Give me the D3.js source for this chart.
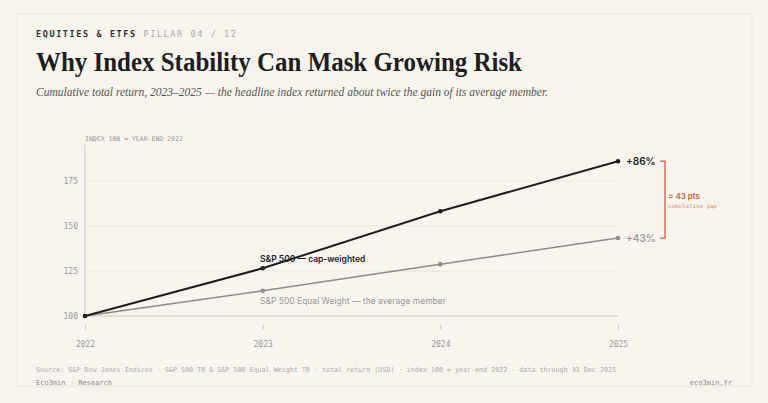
<!DOCTYPE html><html><head><meta charset="utf-8">
<script src="https://cdn.jsdelivr.net/npm/d3@7"></script>
<style>body{margin:0;background:#f7f4ee;}svg{display:block}</style></head><body>
<svg id="c" width="768" height="403"></svg>
<script>
const years=[2022,2023,2024,2025];
const capWeighted=[100,126.5,158.2,186];
const equalWeight=[100,114,128.8,143.3];
const yTicks=[100,125,150,175];
const svg=d3.select("#c");
const mono="'DejaVu Sans Mono','Liberation Mono',monospace";
const serif="'Liberation Serif','DejaVu Serif',serif";
svg.append("rect").attr("x",17).attr("y",14).attr("width",735).attr("height",372).attr("fill","#f8f5ef").attr("stroke","#ebe6dc");
svg.append("text").attr("x",36).attr("y",37).attr("font-family",mono).attr("font-size",8.5).attr("font-weight","bold").attr("letter-spacing",1.6).attr("fill","#333")
 .text("EQUITIES & ETFS").append("tspan").attr("fill","#aaa").attr("font-weight","normal").text(" PILLAR 04 / 12");
svg.append("text").attr("x",36).attr("y",71).attr("font-family",serif).attr("font-size",28).attr("font-weight","bold").attr("fill","#1e1e1e").attr("textLength",486).attr("lengthAdjust","spacingAndGlyphs").text("Why Index Stability Can Mask Growing Risk");
svg.append("text").attr("x",36).attr("y",96).attr("font-family",serif).attr("font-style","italic").attr("font-size",13).attr("fill","#555").attr("textLength",512).attr("lengthAdjust","spacingAndGlyphs").text("Cumulative total return, 2023–2025 — the headline index returned about twice the gain of its average member.");
const x=d3.scaleLinear().domain([2022,2025]).range([85,618]);
const y=d3.scaleLinear().domain([100,175]).range([316,181]);
svg.append("text").attr("x",85).attr("y",141).attr("font-family",mono).attr("font-size",6.5).attr("fill","#999").text("INDEX 100 = YEAR-END 2022");
svg.append("line").attr("x1",85).attr("x2",85).attr("y1",145).attr("y2",316).attr("stroke","#ccc");
yTicks.forEach(t=>{
 svg.append("line").attr("x1",85).attr("x2",618).attr("y1",y(t)).attr("y2",y(t)).attr("stroke",t==100?"#cfc9bc":"#ece7dd");
 svg.append("text").attr("x",78).attr("y",y(t)+3).attr("text-anchor","end").attr("font-family",mono).attr("font-size",8).attr("fill","#999").text(t);
});
const xa=svg.append("g").attr("transform","translate(0,330)").call(d3.axisBottom(x).tickValues(years).tickFormat(d3.format("d")).tickSize(5).tickPadding(6));
xa.select(".domain").remove();
xa.selectAll("line").attr("stroke","#ccc").attr("transform","translate(0,-5)");
xa.selectAll("text").attr("font-family",mono).attr("font-size",8).attr("fill","#999");
const line=d3.line().x((d,i)=>x(years[i])).y(d=>y(d));
function series(vals,col,w){
 svg.append("path").attr("d",line(vals)).attr("fill","none").attr("stroke",col).attr("stroke-width",w);
 svg.selectAll(null).data(vals).enter().append("circle").attr("cx",(d,i)=>x(years[i])).attr("cy",d=>y(d)).attr("r",2.3).attr("fill",col);
}
series(equalWeight,"#8e8b86",1.5);
series(capWeighted,"#1f1f1f",2);
const sans="Inter,'Noto Sans',sans-serif";
svg.append("text").attr("x",260).attr("y",262).attr("font-family",sans).attr("font-size",8.5).attr("font-weight",600).attr("fill","#222").text("S&P 500 — cap-weighted");
svg.append("text").attr("x",260).attr("y",304).attr("font-family",sans).attr("font-size",8.5).attr("fill","#999").text("S&P 500 Equal Weight — the average member");
svg.append("text").attr("x",626).attr("y",y(186)+4).attr("font-family",sans).attr("font-size",10).attr("font-weight",600).attr("fill","#222").text("+86%");
svg.append("text").attr("x",626).attr("y",y(143.3)+4).attr("font-family",sans).attr("font-size",10).attr("font-weight",600).attr("fill","#999").text("+43%");
const red="#c8603f";
svg.append("path").attr("d",`M660,${y(186)}H665V${y(143.3)}H660`).attr("fill","none").attr("stroke",red).attr("stroke-width",1.3);
svg.append("text").attr("x",668).attr("y",199).attr("font-family",sans).attr("font-size",8).attr("font-weight",600).attr("fill",red).text("≈ 43 pts");
svg.append("text").attr("x",668).attr("y",208).attr("font-family",mono).attr("font-size",5.8).attr("fill","#d99077").text("cumulative gap");
svg.append("text").attr("x",36).attr("y",372).attr("font-family",mono).attr("font-size",6.8).attr("fill","#aaa").attr("textLength",580).attr("lengthAdjust","spacingAndGlyphs").text("Source: S&P Dow Jones Indices · S&P 500 TR & S&P 500 Equal Weight TR · total return (USD) · index 100 = year-end 2022 · data through 31 Dec 2025");
svg.append("text").attr("x",36).attr("y",385).attr("font-family",mono).attr("font-size",7).attr("fill","#888").text("Eco3min · Research");
svg.append("text").attr("x",732).attr("y",385).attr("text-anchor","end").attr("font-family",mono).attr("font-size",7).attr("fill","#888").text("eco3min.fr");
</script></body></html>
